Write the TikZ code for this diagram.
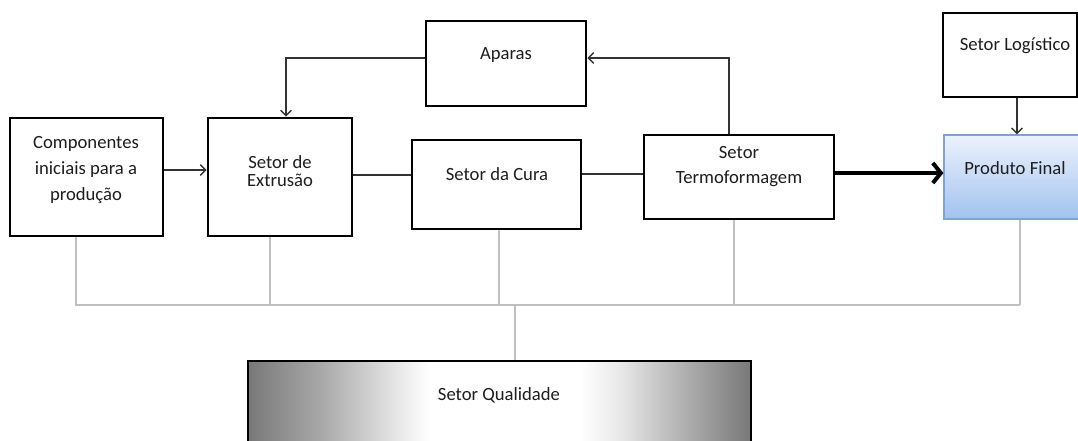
\documentclass[tikz,border=0pt]{standalone}
\usepackage{fontspec}
\setmainfont{Carlito}
\usetikzlibrary{arrows.meta}
\definecolor{txt}{RGB}{30,30,30}
\definecolor{q0}{RGB}{120,120,120}
\definecolor{q1}{RGB}{170,170,170}
\definecolor{q2}{RGB}{232,232,232}
\definecolor{pfTop}{RGB}{236,242,253}
\definecolor{pfBot}{RGB}{162,194,240}
\definecolor{pfLine}{RGB}{125,163,215}
\pgfdeclarehorizontalshading{qualshade}{100bp}{color(0bp)=(q0); color(25bp)=(q0); color(32.5bp)=(q1); color(40bp)=(q2); color(43bp)=(white); color(58bp)=(white); color(62bp)=(q2); color(69bp)=(q1); color(75bp)=(q0); color(100bp)=(q0)}
\tikzset{
  box/.style={draw=black, line width=2pt, fill=white, inner sep=0pt, rectangle},
  lbl/.style={text=txt, font=\fontsize{14}{16}\selectfont, align=center, inner sep=0pt},
  conn/.style={draw=black!80, line width=1.1pt},
  arr/.style={conn, -{Straight Barb[length=4pt,width=8pt]}},
  bigarr/.style={draw=black, line width=3pt, -{Straight Barb[length=6pt,width=15pt]}},
  qline/.style={draw=black!25, line width=0.9pt},
}
\begin{document}
\begin{tikzpicture}[x=0.75pt,y=-0.75pt]
\useasboundingbox (0,0) rectangle (1078,441);
\clip (0,0) rectangle (1078,441);
% boxes
\node[box, minimum width=153*0.75pt, minimum height=118*0.75pt] (comp) at (86.5,177) {};
\node[box, minimum width=144*0.75pt, minimum height=118*0.75pt] (extr) at (280,177) {};
\node[box, minimum width=169*0.75pt, minimum height=89*0.75pt] (cura) at (496.5,184.5) {};
\node[box, minimum width=160*0.75pt, minimum height=85*0.75pt] (apar) at (506,63.5) {};
\node[box, minimum width=190*0.75pt, minimum height=84*0.75pt] (termo) at (739,177) {};
\node[box, minimum width=134*0.75pt, minimum height=84*0.75pt] (logi) at (1010,55) {};
\node[draw=pfLine, line width=0.9pt, top color=pfTop, bottom color=pfBot, inner sep=0pt,
      minimum width=146*0.75pt, minimum height=84*0.75pt] (prod) at (1017,177) {};
\node[draw=black, line width=2.2pt, shading=qualshade, inner sep=0pt,
      minimum width=503*0.75pt, minimum height=110*0.75pt] (qual) at (499.5,416) {};
% labels
\node[lbl, font=\fontsize{14}{19.5}\selectfont] (compt) at (86,170) {Componentes\\iniciais para a\\produção};
\node[lbl, font=\fontsize{14}{13}\selectfont] (extrt) at (280,171) {Setor de\\Extrusão};
\node[lbl] (curat) at (497,174) {Setor da Cura};
\node[lbl] (apart) at (506,55) {Aparas};
\node[lbl, font=\fontsize{14}{18.75}\selectfont] (termot) at (739,167) {Setor\\Termoformagem};
\node[lbl] (logit) at (1015,46) {Setor Logístico};
\node[lbl] (prodt) at (1015,168) {Produto Final};
\node[lbl] (qualt) at (499,395) {Setor Qualidade};
% main flow
\draw[arr] (comp.east |- 0,170) -- (extr.west |- 0,170);
\draw[conn] (extr.east |- 0,175) -- (cura.west |- 0,175);
\draw[conn] (cura.east |- 0,174) -- (termo.west |- 0,174);
\draw[bigarr] (termo.east |- 0,173) -- (prod.west |- 0,173);
% feedback loop
\draw[arr] (termo.north -| 729,0) |- (apar.east |- 0,58);
\draw[arr] (apar.west |- 0,58) -| (extr.north -| 286,0);
% logistics
\draw[arr] (logi.south -| 1017,0) -- (prod.north -| 1017,0);
% quality bus
\coordinate (bus) at (515,305);
\draw[qline] (comp.south -| 76,0) -- (76,305) -- (1020,305);
\draw[qline] (extr.south -| 270,0) -- (270,305);
\draw[qline] (cura.south -| 499,0) -- (499,305);
\draw[qline] (termo.south -| 734,0) -- (734,305);
\draw[qline] (prod.south -| 1020,0) -- (1020,305);
\draw[qline] (bus) -- (qual.north -| bus);
\end{tikzpicture}
\end{document}
